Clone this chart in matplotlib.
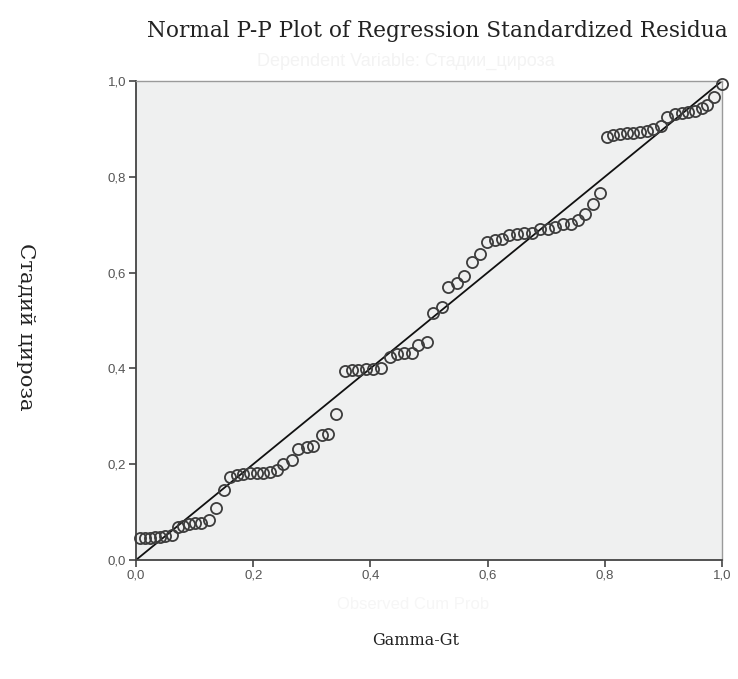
import matplotlib.pyplot as plt
from matplotlib.ticker import FuncFormatter

# Observed cumulative probabilities (x) vs expected (y)
observed = [0.007, 0.015, 0.024, 0.032, 0.041, 0.050, 0.061,
            0.072, 0.080, 0.090, 0.101, 0.111, 0.125, 0.137, 0.150,
            0.160, 0.172, 0.183, 0.195, 0.206, 0.217, 0.229, 0.241,
            0.251, 0.266, 0.276, 0.292, 0.302, 0.317, 0.328, 0.341,
            0.357, 0.369, 0.379, 0.392, 0.404, 0.418, 0.433, 0.445,
            0.457, 0.471, 0.481, 0.497,
            0.507, 0.522, 0.532, 0.548, 0.560, 0.573, 0.587, 0.599,
            0.613, 0.625, 0.637, 0.650, 0.662, 0.676, 0.689, 0.703,
            0.715, 0.729, 0.742, 0.754, 0.766, 0.780, 0.792,
            0.804, 0.814, 0.826, 0.838, 0.848, 0.860, 0.872, 0.882,
            0.896, 0.906, 0.920, 0.932, 0.942, 0.954, 0.966, 0.974,
            0.986, 1.000]
expected = [0.046, 0.046, 0.046, 0.048, 0.048, 0.050, 0.052,
            0.069, 0.071, 0.075, 0.077, 0.077, 0.084, 0.109, 0.146,
            0.173, 0.177, 0.180, 0.182, 0.182, 0.182, 0.184, 0.188,
            0.200, 0.209, 0.232, 0.236, 0.238, 0.261, 0.263, 0.305,
            0.395, 0.397, 0.397, 0.399, 0.399, 0.401, 0.424, 0.430,
            0.432, 0.432, 0.449, 0.455,
            0.516, 0.528, 0.570, 0.578, 0.593, 0.622, 0.639, 0.664,
            0.668, 0.670, 0.678, 0.681, 0.683, 0.683, 0.691, 0.691,
            0.695, 0.701, 0.701, 0.710, 0.722, 0.743, 0.766,
            0.883, 0.887, 0.889, 0.891, 0.891, 0.894, 0.896, 0.900,
            0.906, 0.925, 0.931, 0.933, 0.935, 0.937, 0.944, 0.950,
            0.967, 0.994]
ticks = [0.0, 0.2, 0.4, 0.6, 0.8, 1.0]

fig = plt.figure(figsize=(7.38, 6.79), dpi=100)
ax = fig.add_axes([0.1843, 0.1753, 0.7940, 0.7054])
ax.set_facecolor('#eff0f0')

ax.plot([0, 1], [0, 1], color='#111111', lw=1.3, zorder=2)
ax.plot(observed, expected, 'o', ms=8, mfc='none', mec='#3c3c3c', mew=1.3,
        zorder=3, clip_on=False)

ax.set_xlim(0, 1)
ax.set_ylim(0, 1)
ax.set_xticks(ticks)
ax.set_yticks(ticks)
fmt = FuncFormatter(lambda v, p: f'{v:.1f}'.replace('.', ','))
ax.xaxis.set_major_formatter(fmt)
ax.yaxis.set_major_formatter(fmt)
ax.tick_params(direction='out', length=5, width=1.2, color='#444444',
               labelcolor='#555555', labelsize=9.5, pad=2)
for lab in ax.get_xticklabels() + ax.get_yticklabels():
    lab.set_family('Liberation Sans')

for s in ['left', 'bottom']:
    ax.spines[s].set_color('#444444')
    ax.spines[s].set_linewidth(1.3)
for s in ['top', 'right']:
    ax.spines[s].set_color('#9a9a9a')
    ax.spines[s].set_linewidth(1.0)

serif = 'DejaVu Serif'
fig.text(0.199, 0.955, 'Normal P-P Plot of Regression Standardized Residua',
         family=serif, fontsize=15.6, ha='left', va='center', color='#222222')
fig.text(0.034, 0.518, 'Стадий цироза', family=serif, fontsize=15.3,
         rotation=-90, ha='center', va='center', color='#222222')
fig.text(0.563, 0.057, 'Gamma-Gt', family=serif, fontsize=11.5,
         ha='center', va='center', color='#222222')

# faint leftovers of the original labels
fig.text(0.55, 0.909, 'Dependent Variable: Стадии_цироза',
         family='Liberation Sans', fontsize=13, ha='center', va='center',
         color='#f3f3f3')
fig.text(0.56, 0.110, 'Observed Cum Prob', family='Liberation Sans',
         fontsize=12, ha='center', va='center', color='#f6f6f6')

fig.savefig('out.png', dpi=100)
